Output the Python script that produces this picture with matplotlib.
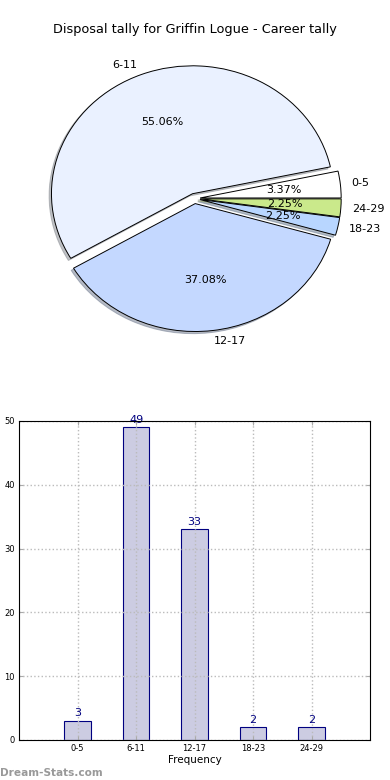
import numpy as np
import matplotlib
matplotlib.use('Agg')
import matplotlib.pyplot as plt

# disposal tally data, career
player = 'Griffin Logue'
bins = ['0-5', '6-11', '12-17', '18-23', '24-29']
counts = [3, 49, 33, 2, 2]
pie_colors = ['#FFFFFF', '#EAF1FF', '#C4D8FF', '#B8D6FF', '#CAE98B']
explode = [0.04, 0.04, 0.04, 0.04, 0.04]

fig = plt.figure(figsize=(3.9, 7.8), dpi=100)

# top: pie chart (not equal aspect, slightly squashed like the original)
ax1 = fig.add_axes([0.0468, 0.5405, 0.904, 0.41])
wedges, texts, autotexts = ax1.pie(counts, labels=bins, colors=pie_colors,
                                   explode=explode, autopct='%1.2f%%',
                                   shadow={'ox': -0.012, 'oy': -0.012, 'shade': 0.45},
                                   startangle=0, labeldistance=1.08,
                                   wedgeprops={'linewidth': 0.7, 'edgecolor': 'black'},
                                   textprops={'fontsize': 8})
ax1.set_aspect('auto')
ax1.set_xlim(-1.25, 1.25)
ax1.set_ylim(-1.25, 1.25)
fig.text(0.5, 1 - 30 / 780., 'Disposal tally for ' + player + ' - Career tally',
         fontsize=9.3, ha='center', va='center')

# bottom: bar chart of the same tally
ax2 = fig.add_axes([0.049, 0.0513, 0.9, 0.409])
x = np.arange(len(bins))
ax2.bar(x, counts, width=0.45, color='#CCCCE2', edgecolor='#000080', linewidth=0.8, zorder=1)
for i in range(len(counts)):
    ax2.text(x[i], counts[i] + 0.4, str(counts[i]), color='#000080',
             ha='center', va='bottom', fontsize=8)
ax2.set_xlim(-1, 5)
ax2.set_ylim(0, 50)
ax2.set_xticks(x)
ax2.set_xticklabels(bins)
ax2.set_yticks(np.arange(0, 51, 10))
ax2.tick_params(labelsize=6, direction='in', top=True, right=True, length=3,
                color='#AAAAAA', pad=3)
ax2.grid(True, linestyle=':', color='#BBBBBB', linewidth=1)
ax2.set_axisbelow(False)
for sp in ax2.spines.values():
    sp.set_zorder(4)
ax2.set_xlabel('Frequency', fontsize=7.5, labelpad=1)

fig.text(0.0, 0.005, 'Dream-Stats.com', color='#999999', fontsize=7.6, fontweight='bold')

plt.savefig('out.png', dpi=100)
